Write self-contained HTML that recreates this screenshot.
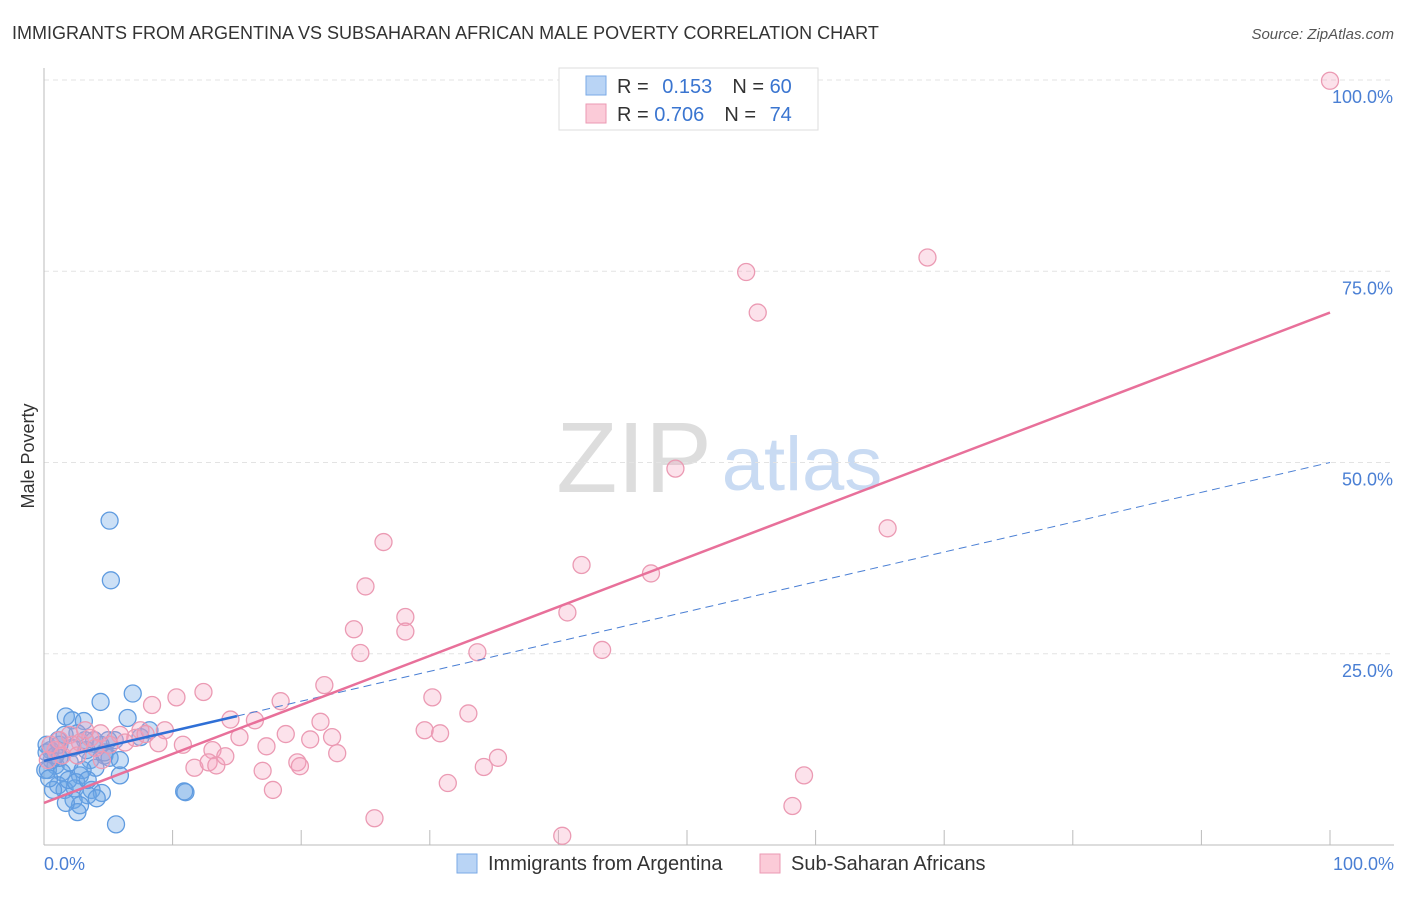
<!DOCTYPE html>
<html><head><meta charset="utf-8"><style>
body{margin:0;background:#fff;font-family:"Liberation Sans",sans-serif}
svg text{font-family:"Liberation Sans",sans-serif}
</style></head><body>
<svg width="1406" height="892">
<text x="12" y="39" font-size="18" fill="#333">IMMIGRANTS FROM ARGENTINA VS SUBSAHARAN AFRICAN MALE POVERTY CORRELATION CHART</text>
<text x="1394" y="39" font-size="15" fill="#555" text-anchor="end" font-style="italic">Source: ZipAtlas.com</text>
<g><text x="634" y="492" font-size="100" fill="#ddd" text-anchor="middle" font-family="Liberation Serif">ZIP</text><text x="802" y="490" font-size="76" fill="#c9dbf3" text-anchor="middle">atlas</text></g>
<g id="grid"></g><g id="axes"></g><g id="marks"></g>
<text transform="translate(34,456) rotate(-90)" font-size="18" fill="#333" text-anchor="middle">Male Poverty</text>
<text x="44" y="870" font-size="18" fill="#4a7fd4">0.0%</text>
<text x="1394" y="870" font-size="18" fill="#4a7fd4" text-anchor="end">100.0%</text>
<g>
<rect x="559" y="68" width="259" height="62" fill="#fff" stroke="#ddd"/>
<rect x="586" y="76" width="20" height="19" fill="#b9d4f5" stroke="#7aaae6"/>
<rect x="586" y="104" width="20" height="19" fill="#fbcbd8" stroke="#eb9ab3"/>
<text x="617" y="93" font-size="20" fill="#333">R = <tspan fill="#3a75d0" dx="8">0.153</tspan><tspan dx="20" fill="#333">N = </tspan><tspan fill="#3a75d0">60</tspan></text>
<text x="617" y="121" font-size="20" fill="#333">R = <tspan fill="#3a75d0">0.706</tspan><tspan dx="20" fill="#333">N = </tspan><tspan fill="#3a75d0" dx="8">74</tspan></text>
</g>
<g>
<rect x="457" y="854" width="20" height="19" fill="#b9d4f5" stroke="#7aaae6"/>
<text x="488" y="870" font-size="20" fill="#333">Immigrants from Argentina</text>
<rect x="760" y="854" width="20" height="19" fill="#fbcbd8" stroke="#eb9ab3"/>
<text x="791" y="870" font-size="20" fill="#333">Sub-Saharan Africans</text>
</g>
</svg>
<script>
const yTicks=[25,50,75,100];
const yTickLabels=["25.0%","50.0%","75.0%","100.0%"];
const xTicks=[10,20,30,40,50,60,70,80,90,100];
const blueX=[5.1,5.2,6.9,4.4,6.5,1.7,2.2,3.1,3.2,1.2,0.5,4.7,3.6,2.0,0.9,0.3,4.0,1.4,2.8,5.9,1.1,2.4,3.7,4.5,1.6,3.4,2.3,4.1,2.8,2.6,5.6,11.0,10.9,0.2,0.6,1.2,1.9,3.0,5.1,5.5,8.2,0.1,0.7,5.0,2.6,1.6,4.4,3.3,0.9,2.2,3.9,4.7,1.7,2.5,3.4,0.4,5.9,1.1,0.2,7.5];
const blueY=[42.4,34.6,19.8,18.7,16.6,16.8,16.3,16.2,13.7,13.1,12.4,11.7,11.1,10.8,10.4,9.8,10.1,9.5,9.1,9.1,7.8,7.4,7.2,6.8,7.2,6.5,5.9,6.1,5.2,4.3,2.7,6.9,7.0,13.1,11.1,11.4,8.5,9.8,11.4,13.7,15.0,9.8,7.2,13.7,14.6,14.4,13.1,12.4,11.7,12.7,13.7,12.1,5.5,8.2,8.5,8.7,11.1,13.7,12.1,14.1];
const pinkX=[100,68.7,54.6,55.5,49.1,65.6,26.4,41.8,47.2,25.0,40.7,28.1,28.1,24.1,24.6,33.7,43.4,21.8,12.4,10.3,8.4,18.4,30.2,33.0,21.5,14.5,16.4,9.4,29.6,30.8,18.8,22.4,20.7,15.2,10.8,8.9,13.1,17.3,22.8,35.3,34.2,11.7,12.8,13.4,14.1,17.0,19.7,19.9,59.1,31.4,17.8,25.7,40.3,58.2,1.2,2.0,2.8,3.6,4.4,5.9,7.1,7.5,5.1,0.9,1.4,2.2,3.2,4.0,6.3,7.9,0.5,0.3,2.6,4.5];
const pinkY=[99.9,76.8,74.9,69.6,49.2,41.4,39.6,36.6,35.5,33.8,30.4,29.8,27.9,28.2,25.1,25.2,25.5,20.9,20.0,19.3,18.3,18.8,19.3,17.2,16.1,16.4,16.3,15.0,15.0,14.6,14.5,14.1,13.8,14.1,13.1,13.3,12.4,12.9,12.0,11.4,10.2,10.1,10.8,10.4,11.6,9.7,10.8,10.3,9.1,8.1,7.2,3.5,1.2,5.1,13.7,14.4,13.4,14.0,14.6,14.4,14.0,15.0,13.1,12.4,11.7,13.1,15.0,12.7,13.4,14.5,13.1,11.1,11.7,11.1];
const blueTrend=[11.0,0.39];
const pinkTrend=[5.5,0.641];
const X=v=>44+v*12.86, Y=v=>845-v*7.65;
const NS="http://www.w3.org/2000/svg";
function mk(p,t,a){const e=document.createElementNS(NS,t);for(const k in a)e.setAttribute(k,a[k]);p.appendChild(e);return e;}
const grid=document.getElementById('grid'),axes=document.getElementById('axes'),marks=document.getElementById('marks');
yTicks.forEach((v,i)=>{
 const l=mk(grid,'line',{x1:44,x2:1394,y1:Y(v),y2:Y(v),stroke:'#e3e3e3','stroke-dasharray':'5,4'});
 
 
 const t=mk(grid,'text',{x:1393,y:Y(v)+23,'font-size':18,fill:'#4a7fd4','text-anchor':'end'});
 t.textContent=yTickLabels[i];
 
 
});
const ya=mk(axes,'line',{x1:44,x2:44,y1:68,y2:845,stroke:'#bbb'});


const xa=mk(axes,'line',{x1:44,x2:1394,y1:845,y2:845,stroke:'#bbb'});


xTicks.forEach(v=>{const t=mk(axes,'line',{x1:X(v),x2:X(v),y1:830,y2:845,stroke:'#bbb'});
 
 });
blueX.forEach((v,i)=>{const c=mk(marks,'circle',{cx:X(v),cy:Y(blueY[i]),r:8.5,fill:'rgba(110,165,230,0.35)',stroke:'#5f9be0','stroke-width':1.3});
 
 });
pinkX.forEach((v,i)=>{const c=mk(marks,'circle',{cx:X(v),cy:Y(pinkY[i]),r:8.5,fill:'rgba(245,160,190,0.3)',stroke:'#eb9ab3','stroke-width':1.3});
 
 });
const bd=mk(marks,'line',{x1:X(15),y1:Y(blueTrend[0]+15*blueTrend[1]),x2:X(100),y2:Y(blueTrend[0]+100*blueTrend[1]),stroke:'#4a7fd4','stroke-dasharray':'8,5','stroke-width':1});


const bl=mk(marks,'line',{x1:X(0),y1:Y(blueTrend[0]),x2:X(15),y2:Y(blueTrend[0]+15*blueTrend[1]),stroke:'#2f6fd6','stroke-width':2.5});


const pl=mk(marks,'line',{x1:X(0),y1:Y(pinkTrend[0]),x2:X(100),y2:Y(pinkTrend[0]+100*pinkTrend[1]),stroke:'#e8709a','stroke-width':2.5});


</script>
</body></html>
